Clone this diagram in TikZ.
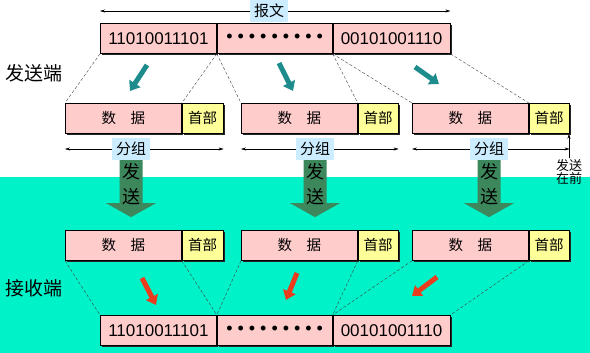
\documentclass[tikz,border=0pt]{standalone}
\usepackage{fontspec}
\setmainfont{Liberation Sans}
\newfontfamily\cjk{Noto Sans CJK SC}
\usepackage{xcolor}
\usepackage{tikz}
\usetikzlibrary{arrows.meta}
\usetikzlibrary{shadows, calc}
\definecolor{pinkbox}{RGB}{255,204,204}
\definecolor{headyellow}{RGB}{255,255,153}
\definecolor{tagblue}{RGB}{204,236,255}
\definecolor{recvteal}{RGB}{0,242,200}
\definecolor{sendgreen}{RGB}{60,136,92}
\definecolor{splitteal}{RGB}{30,140,140}
\definecolor{mergered}{RGB}{235,60,30}
\tikzset{
    seg/.style={draw, line width=0.8pt, anchor=north west, minimum height=30pt, inner sep=0pt,
        drop shadow={shadow xshift=1.5pt, shadow yshift=-1.5pt, opacity=1, fill=black!85}},
    bits/.style={seg, fill=pinkbox, font=\fontsize{17}{17}\selectfont},
    data/.style={seg, fill=pinkbox, minimum width=116pt, font=\cjk\fontsize{14.5}{14.5}\selectfont},
    head/.style={seg, fill=headyellow, minimum width=41pt, font=\cjk\fontsize{14.5}{14.5}\selectfont},
    tag/.style={fill=tagblue, inner sep=4pt, font=\cjk\fontsize{15}{15}\selectfont},
    side/.style={font=\cjk\fontsize{19}{19}\selectfont},
    dim/.style={thin, -{Stealth[length=5pt, width=3pt]}},
    split/.style={densely dashed, thin, black!75},
    fat/.style={line width=5pt, -{Triangle[length=9pt, width=13pt]}},
    sendarrow/.style={fill=sendgreen},
}

\begin{document}
\begin{tikzpicture}[x=1pt, y=-1pt]
    \useasboundingbox (0,0) rectangle (590,353);
    \fill[recvteal] (0,177) rectangle (590,353);
    % message at the sender
    \node[bits, minimum width=116pt] (mA) at (100,23) {11010011101};
    \node[bits, minimum width=115pt] (mB) at (mA.north east) {{\fontsize{18}{18}\selectfont\spaceskip=5pt • • • • • • • • •}};
    \node[bits, minimum width=117pt] (mC) at (mB.north east) {00101001110};
    \node[tag] (bw) at (269,11) {报文};
    \draw[dim] (bw.west) -- (bw.west -| mA.west);
    \draw[dim] (bw.east) -- (bw.east -| mC.east);
    \node[side] (tx) at (34,73) {发送端};
    % packets at the sender
    \node[data] (d1) at (65,103) {数\quad 据};
    \node[head] (h1) at (d1.north east) {首部};
    \node[data] (d2) at (241,103) {数\quad 据};
    \node[head, minimum width=40pt] (h2) at (d2.north east) {首部};
    \node[data] (d3) at (412,103) {数\quad 据};
    \node[head, minimum width=40pt] (h3) at (d3.north east) {首部};
    \draw[split] (mA.south west) -- (d1.north west);
    \draw[split] (mA.south east) -- (h1.north west);
    \draw[split] (mA.south east) -- (d2.north west);
    \draw[split] (mB.south east) -- (h2.north west);
    \draw[split] (mB.south east) -- (d3.north west);
    \draw[split] (mC.south east) -- (h3.north west);
    \coordinate (t1a) at (147,65);  \coordinate (t1b) at (130,91);
    \coordinate (t2a) at (279,63);  \coordinate (t2b) at (293,91);
    \coordinate (t3a) at (415,67);  \coordinate (t3b) at (439,84);
    \draw[fat, splitteal] (t1a) -- (t1b);
    \draw[fat, splitteal] (t2a) -- (t2b);
    \draw[fat, splitteal] (t3a) -- (t3b);
    % packet lengths
    \node[tag] (g1) at (131,149) {分组};
    \draw[dim] (g1.west) -- (g1.west -| d1.west);
    \draw[dim] (g1.east) -- (g1.east -| h1.east);
    \node[tag] (g2) at (315,149) {分组};
    \draw[dim] (g2.west) -- (g2.west -| d2.west);
    \draw[dim] (g2.east) -- (g2.east -| h2.east);
    \node[tag] (g3) at (489,149) {分组};
    \draw[dim] (g3.west) -- (g3.west -| d3.west);
    \draw[dim] (g3.east) -- (g3.east -| h3.east);
    \node[font=\cjk\fontsize{13}{13}\selectfont, align=center, inner sep=1pt] (fq) at (569,172) {发送\\在前};
    \draw[dim] (fq.north) -- (fq.north |- h3.south);
    % sending
    \fill[sendarrow, shift={(g1.south)}] (-11.5,0) -- (11.5,0) -- (11.5,43) -- (25,43) -- (0,57) -- (-25,43) -- (-11.5,43) -- cycle;
    \fill[sendarrow, shift={(g2.south)}] (-11.5,0) -- (11.5,0) -- (11.5,43) -- (25,43) -- (0,57) -- (-25,43) -- (-11.5,43) -- cycle;
    \fill[sendarrow, shift={(g3.south)}] (-11.5,0) -- (11.5,0) -- (11.5,43) -- (25,43) -- (0,57) -- (-25,43) -- (-11.5,43) -- cycle;
    \node[font=\cjk\fontsize{18}{25}\selectfont, align=center] (s1) at ($(g1.south)+(0,24)$) {发\\送};
    \node[font=\cjk\fontsize{18}{25}\selectfont, align=center] (s2) at ($(g2.south)+(0,24)$) {发\\送};
    \node[font=\cjk\fontsize{18}{25}\selectfont, align=center] (s3) at ($(g3.south)+(0,24)$) {发\\送};
    % packets at the receiver
    \node[data] (rd1) at (65,230) {数\quad 据};
    \node[head] (rh1) at (rd1.north east) {首部};
    \node[data] (rd2) at (241,230) {数\quad 据};
    \node[head, minimum width=40pt] (rh2) at (rd2.north east) {首部};
    \node[data] (rd3) at (412,230) {数\quad 据};
    \node[head, minimum width=40pt] (rh3) at (rd3.north east) {首部};
    \node[side] (rx) at (34,288) {接收端};
    % message at the receiver
    \node[bits, minimum width=116pt] (nA) at (100,315) {11010011101};
    \node[bits, minimum width=115pt] (nB) at (nA.north east) {{\fontsize{18}{18}\selectfont\spaceskip=5pt • • • • • • • • •}};
    \node[bits, minimum width=117pt] (nC) at (nB.north east) {00101001110};
    \draw[split] (rd1.south west) -- (nA.north west);
    \draw[split] (rh1.south west) -- (nA.north east);
    \draw[split] (rd2.south west) -- (nA.north east);
    \draw[split] (rh2.south west) -- (nB.north east);
    \draw[split] (rd3.south west) -- (nB.north east);
    \draw[split] (rh3.south west) -- (nC.north east);
    \coordinate (r1a) at (142,278); \coordinate (r1b) at (156,305);
    \coordinate (r2a) at (297,273); \coordinate (r2b) at (286,300);
    \coordinate (r3a) at (437,277); \coordinate (r3b) at (412,296);
    \draw[fat, mergered] (r1a) -- (r1b);
    \draw[fat, mergered] (r2a) -- (r2b);
    \draw[fat, mergered] (r3a) -- (r3b);
\end{tikzpicture}
\end{document}
